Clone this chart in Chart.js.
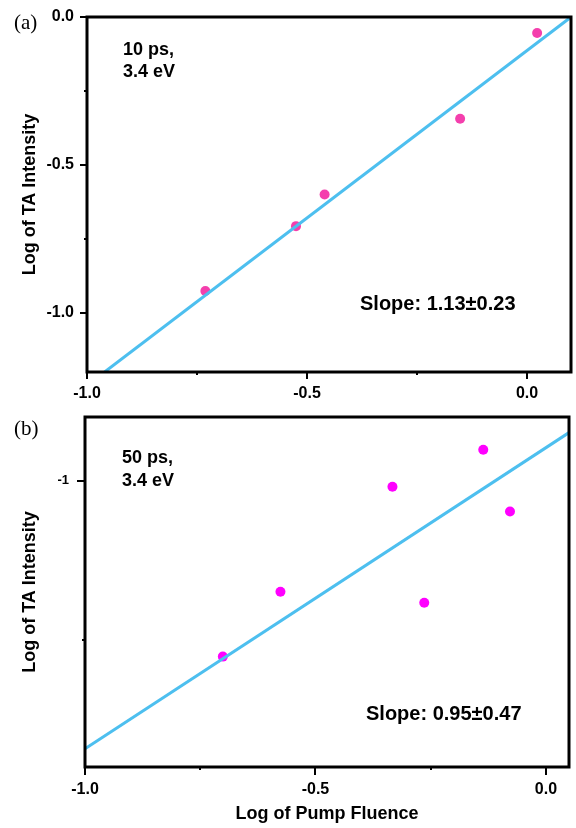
<!DOCTYPE html>
<html>
<head>
<meta charset="utf-8">
<script src="https://cdn.jsdelivr.net/npm/chart.js@4.4.1/dist/chart.umd.min.js"></script>
<style>
  html, body { margin: 0; padding: 0; background: #fff; }
  #wrap { position: relative; width: 576px; height: 828px; }
  canvas { position: absolute; left: 0; }
  #chartA { top: 0; }
  #chartB { top: 400px; }
</style>
</head>
<body>
<div id="wrap">
  <canvas id="chartA" width="576" height="400"></canvas>
  <canvas id="chartB" width="576" height="428"></canvas>
</div>
<script>
// (a) 10 ps, 3.4 eV
const fluence10ps = [-0.731, -0.525, -0.460, -0.152, 0.023];
const intensity10ps = [-0.926, -0.707, -0.600, -0.344, -0.054];
const fitX10ps = [-0.96, 0.10];
const fitY10ps = [-1.20, 0.00];

// (b) 50 ps, 3.4 eV
const fluence50ps = [-0.701, -0.576, -0.333, -0.264, -0.136, -0.078];
const intensity50ps = [-1.553, -1.349, -1.019, -1.384, -0.903, -1.097];
const fitX50ps = [-1.00, 0.05];
const fitY50ps = [-1.843, -0.849];

const yTitle = 'Log of TA Intensity';
const xTitle = 'Log of Pump Fluence';

Chart.defaults.font.family = "'Liberation Sans', Arial, sans-serif";
Chart.defaults.font.weight = 'bold';
Chart.defaults.color = '#000';

function toPoints(xs, ys) {
  return xs.map((x, i) => ({x: x, y: ys[i]}));
}

function isMajor(v) {
  return Math.abs(v * 2 - Math.round(v * 2)) < 1e-9;
}

// frame, tick marks (major + minor), text notes and panel letter
const panelPlugin = {
  id: 'panel',
  afterDraw(chart, args, opts) {
    const {ctx, chartArea: a} = chart;
    const xs = chart.scales.x, ys = chart.scales.y;
    ctx.save();
    ctx.strokeStyle = '#000';
    ctx.lineWidth = 2;
    xs.ticks.forEach(t => {
      const px = Math.round(xs.getPixelForValue(t.value));
      const len = t.label ? opts.tickLen : opts.minorLen;
      ctx.beginPath();
      ctx.moveTo(px, a.bottom);
      ctx.lineTo(px, a.bottom + len);
      ctx.stroke();
    });
    ys.ticks.forEach(t => {
      const py = Math.round(ys.getPixelForValue(t.value));
      const len = t.label ? opts.tickLen : opts.minorLen;
      ctx.beginPath();
      ctx.moveTo(a.left, py);
      ctx.lineTo(a.left - len, py);
      ctx.stroke();
    });
    ctx.lineWidth = 3;
    ctx.strokeRect(a.left, a.top, a.right - a.left, a.bottom - a.top);

    ctx.fillStyle = '#000';
    ctx.textBaseline = 'alphabetic';
    ctx.textAlign = 'left';
    opts.notes.forEach(n => {
      ctx.font = "bold " + n.size + "px 'Liberation Sans', Arial, sans-serif";
      ctx.fillText(n.text, a.left + n.dx, a.top + n.dy);
    });
    ctx.font = "21px 'Liberation Serif', 'Times New Roman', serif";
    ctx.fillText(opts.letter, opts.letterX, opts.letterY);
    ctx.restore();
  }
};

function makePanel(id, p) {
  return new Chart(document.getElementById(id), {
    type: 'scatter',
    data: {
      datasets: [
        {
          data: toPoints(p.fitX, p.fitY),
          showLine: true,
          borderColor: '#4dbfef',
          borderWidth: 3,
          pointRadius: 0,
          tension: 0,
          fill: false,
          clip: 0,
          order: 0
        },
        {
          data: toPoints(p.xs, p.ys),
          backgroundColor: p.dotColor,
          borderWidth: 0,
          pointRadius: 5,
          order: 1
        }
      ]
    },
    options: {
      responsive: false,
      animation: false,
      events: [],
      layout: {padding: p.pad},
      plugins: {
        legend: {display: false},
        tooltip: {enabled: false},
        panel: {
          tickLen: p.tickLen,
          minorLen: 3,
          notes: p.notes,
          letter: p.letter,
          letterX: 14,
          letterY: p.letterY
        }
      },
      scales: {
        x: {
          type: 'linear',
          min: p.xMin,
          max: p.xMax,
          grid: {display: false, drawTicks: true, tickLength: p.tickLen},
          border: {display: false},
          ticks: {
            stepSize: 0.25,
            includeBounds: false,
            autoSkip: false,
            maxRotation: 0,
            padding: 5,
            font: {size: 16},
            callback: v => isMajor(v) ? v.toFixed(1) : ''
          },
          title: {
            display: p.showXTitle,
            text: xTitle,
            font: {size: 18},
            padding: {top: 0, bottom: 3}
          },
          afterFit: s => { s.height = p.xAxisH; }
        },
        y: {
          type: 'linear',
          min: p.yMin,
          max: p.yMax,
          grid: {display: false, drawTicks: true, tickLength: p.tickLen},
          border: {display: false},
          ticks: {
            stepSize: p.yStep,
            includeBounds: false,
            autoSkip: false,
            padding: p.yPad,
            font: {size: p.yFont},
            callback: p.yLabel
          },
          title: {
            display: true,
            text: yTitle,
            font: {size: 18},
            padding: {top: 19, bottom: 0}
          },
          afterFit: s => { s.width = p.yAxisW; }
        }
      }
    },
    plugins: [panelPlugin]
  });
}

makePanel('chartA', {
  xs: fluence10ps, ys: intensity10ps, fitX: fitX10ps, fitY: fitY10ps,
  dotColor: '#f43fad',
  xMin: -1.0, xMax: 0.1, yMin: -1.2, yMax: 0.0, yStep: 0.25,
  yLabel: v => isMajor(v) ? v.toFixed(1) : '',
  yFont: 16, yPad: 6,
  pad: {left: 0, top: 17, right: 3, bottom: 0},
  yAxisW: 87, xAxisH: 28, tickLen: 7,
  showXTitle: false,
  letter: '(a)', letterY: 29,
  notes: [
    {text: '10 ps,', dx: 36, dy: 38, size: 18},
    {text: '3.4 eV', dx: 36, dy: 60, size: 18},
    {text: 'Slope: 1.13\u00b10.23', dx: 273, dy: 293, size: 20}
  ]
});

makePanel('chartB', {
  xs: fluence50ps, ys: intensity50ps, fitX: fitX50ps, fitY: fitY50ps,
  dotColor: '#ff00ff',
  xMin: -1.0, xMax: 0.05, yMin: -1.9, yMax: -0.8, yStep: 0.5,
  yLabel: v => v === -1 ? '-1' : '',
  yFont: 13, yPad: 8,
  pad: {left: 0, top: 17, right: 7, bottom: 0},
  yAxisW: 85, xAxisH: 61, tickLen: 8,
  showXTitle: true,
  letter: '(b)', letterY: 35,
  notes: [
    {text: '50 ps,', dx: 37, dy: 46, size: 18},
    {text: '3.4 eV', dx: 37, dy: 69, size: 18},
    {text: 'Slope: 0.95\u00b10.47', dx: 281, dy: 303, size: 20}
  ]
});
</script>
</body>
</html>
